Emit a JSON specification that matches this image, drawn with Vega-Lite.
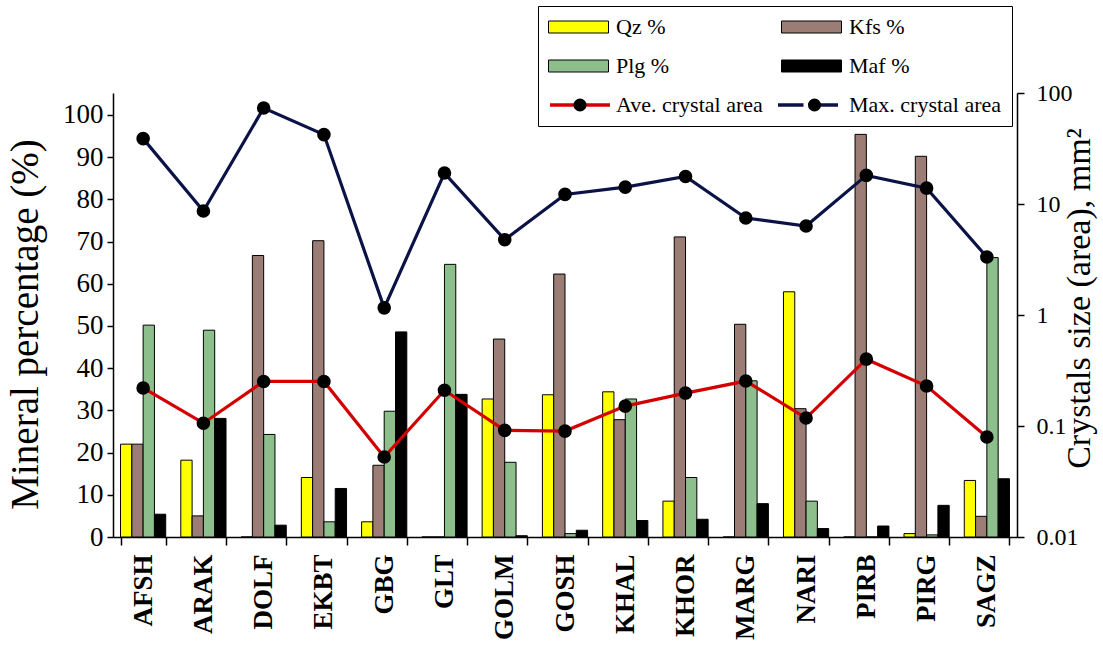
{
  "$schema": "https://vega.github.io/schema/vega-lite/v6.json",
  "width": 904,
  "height": 444,
  "autosize": {"type": "none"},
  "padding": {"left": 113, "top": 93, "right": 86, "bottom": 111},
  "background": "white",
  "config": {
    "font": "Liberation Serif",
    "view": {"stroke": null},
    "axis": {"grid": false, "domainColor": "black", "tickColor": "black", "labelColor": "black", "titleColor": "black", "labelFont": "Liberation Serif", "titleFont": "Liberation Serif", "titleFontWeight": "normal", "domainWidth": 1.5, "tickWidth": 1.5}
  },
  "datasets": {
    "bars": [
      {"site": "AFSH", "mineral": "Qz %", "value": 22.0}, {"site": "AFSH", "mineral": "Kfs %", "value": 22.0}, {"site": "AFSH", "mineral": "Plg %", "value": 50.2}, {"site": "AFSH", "mineral": "Maf %", "value": 5.4},
      {"site": "ARAK", "mineral": "Qz %", "value": 18.2}, {"site": "ARAK", "mineral": "Kfs %", "value": 5.0}, {"site": "ARAK", "mineral": "Plg %", "value": 49.0}, {"site": "ARAK", "mineral": "Maf %", "value": 28.1},
      {"site": "DOLF", "mineral": "Qz %", "value": 0}, {"site": "DOLF", "mineral": "Kfs %", "value": 66.7}, {"site": "DOLF", "mineral": "Plg %", "value": 24.3}, {"site": "DOLF", "mineral": "Maf %", "value": 2.8},
      {"site": "EKBT", "mineral": "Qz %", "value": 14.1}, {"site": "EKBT", "mineral": "Kfs %", "value": 70.2}, {"site": "EKBT", "mineral": "Plg %", "value": 3.6}, {"site": "EKBT", "mineral": "Maf %", "value": 11.5},
      {"site": "GBG", "mineral": "Qz %", "value": 3.6}, {"site": "GBG", "mineral": "Kfs %", "value": 17.0}, {"site": "GBG", "mineral": "Plg %", "value": 29.8}, {"site": "GBG", "mineral": "Maf %", "value": 48.6},
      {"site": "GLT", "mineral": "Qz %", "value": 0}, {"site": "GLT", "mineral": "Kfs %", "value": 0}, {"site": "GLT", "mineral": "Plg %", "value": 64.6}, {"site": "GLT", "mineral": "Maf %", "value": 33.8},
      {"site": "GOLM", "mineral": "Qz %", "value": 32.7}, {"site": "GOLM", "mineral": "Kfs %", "value": 46.9}, {"site": "GOLM", "mineral": "Plg %", "value": 17.7}, {"site": "GOLM", "mineral": "Maf %", "value": 0.3},
      {"site": "GOSH", "mineral": "Qz %", "value": 33.7}, {"site": "GOSH", "mineral": "Kfs %", "value": 62.3}, {"site": "GOSH", "mineral": "Plg %", "value": 0.8}, {"site": "GOSH", "mineral": "Maf %", "value": 1.6},
      {"site": "KHAL", "mineral": "Qz %", "value": 34.4}, {"site": "KHAL", "mineral": "Kfs %", "value": 27.8}, {"site": "KHAL", "mineral": "Plg %", "value": 32.7}, {"site": "KHAL", "mineral": "Maf %", "value": 3.9},
      {"site": "KHOR", "mineral": "Qz %", "value": 8.5}, {"site": "KHOR", "mineral": "Kfs %", "value": 71.1}, {"site": "KHOR", "mineral": "Plg %", "value": 14.1}, {"site": "KHOR", "mineral": "Maf %", "value": 4.2},
      {"site": "MARG", "mineral": "Qz %", "value": 0}, {"site": "MARG", "mineral": "Kfs %", "value": 50.4}, {"site": "MARG", "mineral": "Plg %", "value": 37.0}, {"site": "MARG", "mineral": "Maf %", "value": 7.9},
      {"site": "NARI", "mineral": "Qz %", "value": 58.1}, {"site": "NARI", "mineral": "Kfs %", "value": 30.4}, {"site": "NARI", "mineral": "Plg %", "value": 8.5}, {"site": "NARI", "mineral": "Maf %", "value": 2.0},
      {"site": "PIRB", "mineral": "Qz %", "value": 0}, {"site": "PIRB", "mineral": "Kfs %", "value": 95.4}, {"site": "PIRB", "mineral": "Plg %", "value": 0}, {"site": "PIRB", "mineral": "Maf %", "value": 2.6},
      {"site": "PIRG", "mineral": "Qz %", "value": 0.8}, {"site": "PIRG", "mineral": "Kfs %", "value": 90.2}, {"site": "PIRG", "mineral": "Plg %", "value": 0.5}, {"site": "PIRG", "mineral": "Maf %", "value": 7.5},
      {"site": "SAGZ", "mineral": "Qz %", "value": 13.4}, {"site": "SAGZ", "mineral": "Kfs %", "value": 4.9}, {"site": "SAGZ", "mineral": "Plg %", "value": 66.2}, {"site": "SAGZ", "mineral": "Maf %", "value": 13.8}
    ],
    "lines": [
      {"site": "AFSH", "series": "Ave. crystal area", "area": 0.22}, {"site": "ARAK", "series": "Ave. crystal area", "area": 0.106}, {"site": "DOLF", "series": "Ave. crystal area", "area": 0.252}, {"site": "EKBT", "series": "Ave. crystal area", "area": 0.252}, {"site": "GBG", "series": "Ave. crystal area", "area": 0.0526}, {"site": "GLT", "series": "Ave. crystal area", "area": 0.21}, {"site": "GOLM", "series": "Ave. crystal area", "area": 0.0914}, {"site": "GOSH", "series": "Ave. crystal area", "area": 0.090}, {"site": "KHAL", "series": "Ave. crystal area", "area": 0.151}, {"site": "KHOR", "series": "Ave. crystal area", "area": 0.198}, {"site": "MARG", "series": "Ave. crystal area", "area": 0.254}, {"site": "NARI", "series": "Ave. crystal area", "area": 0.118}, {"site": "PIRB", "series": "Ave. crystal area", "area": 0.40}, {"site": "PIRG", "series": "Ave. crystal area", "area": 0.229}, {"site": "SAGZ", "series": "Ave. crystal area", "area": 0.0796},
      {"site": "AFSH", "series": "Max. crystal area", "area": 38.8}, {"site": "ARAK", "series": "Max. crystal area", "area": 8.65}, {"site": "DOLF", "series": "Max. crystal area", "area": 73.3}, {"site": "EKBT", "series": "Max. crystal area", "area": 42.2}, {"site": "GBG", "series": "Max. crystal area", "area": 1.16}, {"site": "GLT", "series": "Max. crystal area", "area": 19.0}, {"site": "GOLM", "series": "Max. crystal area", "area": 4.77}, {"site": "GOSH", "series": "Max. crystal area", "area": 12.2}, {"site": "KHAL", "series": "Max. crystal area", "area": 14.2}, {"site": "KHOR", "series": "Max. crystal area", "area": 17.7}, {"site": "MARG", "series": "Max. crystal area", "area": 7.48}, {"site": "NARI", "series": "Max. crystal area", "area": 6.34}, {"site": "PIRB", "series": "Max. crystal area", "area": 18.1}, {"site": "PIRG", "series": "Max. crystal area", "area": 13.9}, {"site": "SAGZ", "series": "Max. crystal area", "area": 3.33}
    ]
  },
  "layer": [
    {
      "data": {"name": "bars"},
      "mark": {"type": "bar", "strokeWidth": 1},
      "encoding": {
        "x": {"field": "site", "type": "nominal", "sort": null,
          "scale": {"paddingInner": 0.25, "paddingOuter": 0.125},
          "axis": {"title": null, "labelAngle": -90, "labelAlign": "right", "labelBaseline": "middle", "labelFontSize": 27, "labelFontWeight": "bold", "labelFont": "Liberation Serif", "tickSize": 8, "tickBand": "extent", "labelPadding": 9}},
        "xOffset": {"field": "mineral", "type": "nominal", "sort": ["Qz %", "Kfs %", "Plg %", "Maf %"], "scale": {"paddingInner": 0, "paddingOuter": 0}},
        "y": {"field": "value", "type": "quantitative", "scale": {"domain": [0, 105.2], "nice": false},
          "axis": {"orient": "left", "title": "Mineral percentage (%)", "values": [0, 10, 20, 30, 40, 50, 60, 70, 80, 90, 100], "labelFont": "Liberation Serif", "labelFontSize": 27, "tickSize": 6, "labelPadding": 4, "titleFont": "Liberation Serif", "titleFontSize": 39, "titleAngle": 270, "titleX": -76, "titleY": 231, "titleAlign": "center", "titleBaseline": "alphabetic"}},
        "fill": {"field": "mineral", "type": "nominal",
          "scale": {"domain": ["Qz %", "Plg %", "Ave. crystal area", "Kfs %", "Maf %", "Max. crystal area"], "range": ["#ffff00", "#8dbf8d", "transparent", "#9b7d76", "#000000", "transparent"]},
          "legend": {"title": null, "orient": "none", "legendX": 425, "legendY": -87, "columns": 2, "padding": 10, "strokeColor": "black", "fillColor": "white", "cornerRadius": 0,
            "labelFont": "Liberation Serif", "labelFontSize": 22, "labelColor": "black", "labelLimit": 300, "symbolSize": 3600, "symbolType": "M-1,-0.2H1V0.2H-1Z", "symbolStrokeWidth": 1, "labelOffset": 7, "columnPadding": 18, "rowPadding": 17, "clipHeight": 22}
        },
        "stroke": {"field": "mineral", "type": "nominal",
          "scale": {"domain": ["Qz %", "Plg %", "Ave. crystal area", "Kfs %", "Maf %", "Max. crystal area"], "range": ["#000000", "#000000", "transparent", "#000000", "#000000", "transparent"]}
        }
      }
    },
    {
      "data": {"name": "lines"},
      "layer": [
        {
          "mark": {"type": "line", "strokeWidth": 3.2},
          "encoding": {
            "x": {"field": "site", "type": "nominal", "sort": null},
            "y": {"field": "area", "type": "quantitative", "scale": {"type": "log", "domain": [0.01, 100], "nice": false},
              "axis": {"orient": "right", "title": "Crystals size (area), mm²", "values": [0.01, 0.1, 1, 10, 100], "format": "~g", "labelFont": "Liberation Serif", "labelFontSize": 24, "tickSize": 7, "labelPadding": 12, "titleFont": "Liberation Serif", "titleFontSize": 34, "titleAngle": 270, "titleX": 72, "titleY": 205, "titleAlign": "center", "titleBaseline": "alphabetic"}},
            "color": {"field": "series", "type": "nominal", "scale": {"domain": ["Ave. crystal area", "Max. crystal area"], "range": ["#d40000", "#0b1246"]},
              "legend": {"title": null, "orient": "none", "legendX": 435, "legendY": 1, "columns": 2, "padding": 0, "labelFont": "Liberation Serif", "labelFontSize": 22, "labelExpr": "''", "labelLimit": 300, "symbolSize": 3600, "symbolType": "M-1,0H-0.15M0.15,0H1", "symbolStrokeWidth": 3.5, "labelOffset": 7, "columnPadding": 157, "rowPadding": 0, "clipHeight": 22}}
          }
        },
        {
          "mark": {"type": "point", "filled": true, "color": "black", "size": 185, "opacity": 1},
          "encoding": {
            "x": {"field": "site", "type": "nominal", "sort": null},
            "y": {"field": "area", "type": "quantitative"},
            "shape": {"field": "series", "type": "nominal", "scale": {"domain": ["Ave. crystal area", "Max. crystal area", "_"], "range": ["circle", "circle", "circle"]},
              "legend": {"title": null, "values": ["Ave. crystal area", "Max. crystal area"], "orient": "none", "legendX": 456, "legendY": 1, "columns": 2, "padding": 0, "labelFont": "Liberation Serif", "labelFontSize": 22, "labelExpr": "''", "labelLimit": 300, "symbolSize": 170, "symbolFillColor": "black", "symbolStrokeWidth": 0, "labelOffset": 7, "columnPadding": 205.5, "rowPadding": 0, "clipHeight": 22}}
          }
        }
      ]
    }
  ],
  "resolve": {"scale": {"y": "independent"}}
}
